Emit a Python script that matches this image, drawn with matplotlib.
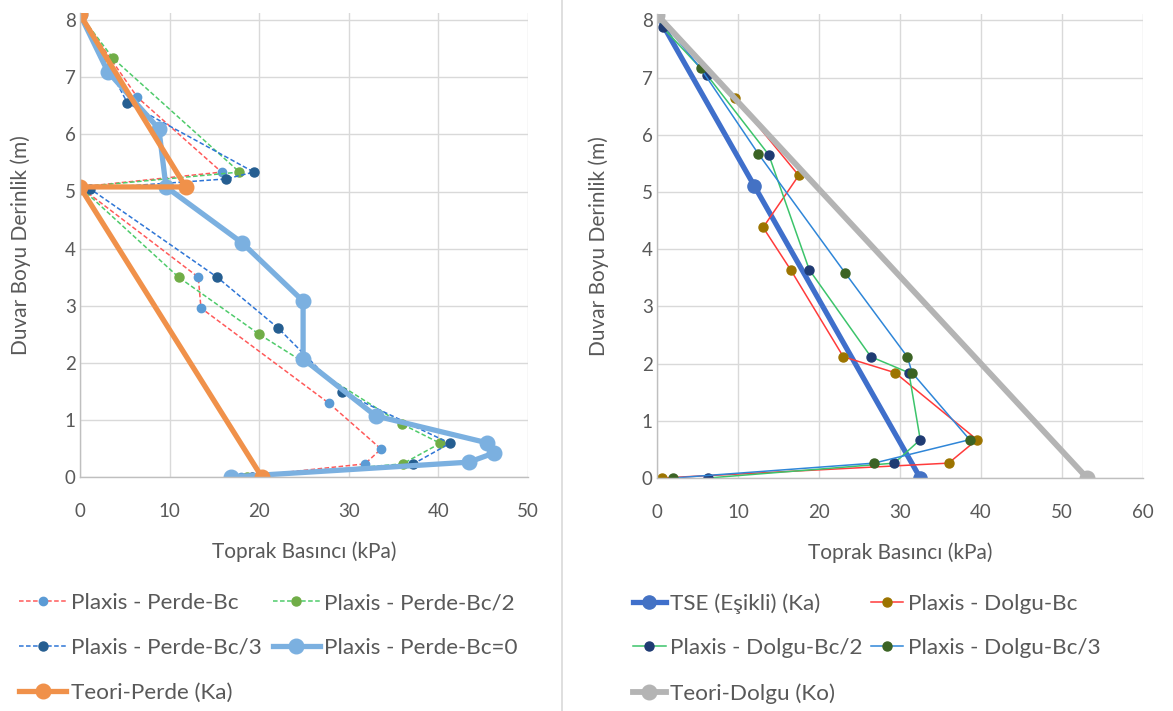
import matplotlib
matplotlib.use("Agg")
import matplotlib.pyplot as plt
from matplotlib.lines import Line2D

plt.rcParams['font.family'] = ['Lato', 'DejaVu Sans']

# ---------------- Left chart data (Perde) ----------------
perde_bc_x = [0, 6.4, 15.8, 0, 13.2, 13.5, 27.8, 33.6, 31.8, 18.0]
perde_bc_y = [8.1, 6.65, 5.34, 5.08, 3.5, 2.96, 1.29, 0.49, 0.23, 0]

perde_bc2_x = [0, 3.7, 17.8, 0, 11.0, 20.0, 35.9, 40.2, 36.0, 18.6]
perde_bc2_y = [8.1, 7.33, 5.34, 5.08, 3.5, 2.5, 0.93, 0.59, 0.23, 0]

perde_bc3_x = [0, 5.3, 19.4, 16.3, 1.1, 15.3, 22.1, 29.2, 41.3, 37.2, 19.2]
perde_bc3_y = [8.1, 6.55, 5.34, 5.22, 5.05, 3.5, 2.61, 1.49, 0.59, 0.23, 0]

perde_bc0_x = [0, 3.1, 8.8, 9.6, 18.1, 24.9, 24.9, 33.0, 45.4, 46.2, 43.4, 16.8]
perde_bc0_y = [8.1, 7.1, 6.1, 5.08, 4.1, 3.08, 2.07, 1.07, 0.6, 0.42, 0.26, 0]

teori_perde_x = [0, 11.8, 0, 20.3]
teori_perde_y = [8.1, 5.08, 5.08, 0]

# ---------------- Right chart data (Dolgu) ----------------
tse_x = [0, 12.0, 32.5]
tse_y = [8.1, 5.11, 0]

dolgu_bc_x = [0, 9.6, 17.5, 13.1, 16.5, 23.0, 29.4, 39.5, 36.0, 0.6]
dolgu_bc_y = [8.1, 6.65, 5.29, 4.38, 3.64, 2.12, 1.84, 0.67, 0.26, 0]

dolgu_bc2_x = [0, 0.7, 6.2, 13.8, 18.8, 26.4, 31.1, 32.5, 29.3, 6.3]
dolgu_bc2_y = [8.1, 7.88, 7.04, 5.65, 3.64, 2.12, 1.84, 0.67, 0.26, 0]

dolgu_bc3_x = [0, 5.4, 12.5, 23.2, 30.9, 31.5, 38.6, 26.8, 2.0]
dolgu_bc3_y = [8.1, 7.16, 5.67, 3.59, 2.12, 1.84, 0.67, 0.26, 0]

teori_dolgu_x = [0, 53.1]
teori_dolgu_y = [8.1, 0]

left_xticks = [0, 10, 20, 30, 40, 50]
right_xticks = [0, 10, 20, 30, 40, 50, 60]
yticks = [0, 1, 2, 3, 4, 5, 6, 7, 8]

xlabel = "Toprak Basıncı (kPa)"
ylabel = "Duvar Boyu Derinlik (m)"

W, H = 1173, 711
fig = plt.figure(figsize=(W / 100, H / 100), dpi=100)

def fx(px):
    return px / W

def fy(py):
    return 1 - py / H

YTOP = 8.12
axL = fig.add_axes([fx(80), fy(477), fx(528) - fx(80), fy(477 - YTOP * 57.1) - fy(477)])
axR = fig.add_axes([fx(657), fy(478), fx(1143) - fx(657), fy(478 - YTOP * 57.2) - fy(478)])

grid_c = '#D9D9D9'
text_c = '#595959'

def style(ax, xt, xmax, ylab_x):
    ax.set_xlim(0, xmax)
    ax.set_ylim(0, YTOP)
    ax.set_xticks(xt)
    ax.set_yticks(yticks)
    ax.grid(True, color=grid_c, linewidth=1.0)
    ax.set_axisbelow(True)
    for s in ['top', 'right']:
        ax.spines[s].set_visible(False)
    for s in ['left', 'bottom']:
        ax.spines[s].set_color('#BFBFBF')
        ax.spines[s].set_linewidth(1.0)
    ax.tick_params(axis='both', length=0, labelsize=13.5, colors=text_c)
    ax.tick_params(axis='x', pad=19)
    ax.tick_params(axis='y', pad=3)
    ax.set_xlabel(xlabel, fontsize=15, color=text_c, labelpad=15)
    ax.set_ylabel(ylabel, fontsize=15, color=text_c)
    ax.yaxis.set_label_coords(ylab_x, 0.5)

style(axL, left_xticks, 50, (31 - 80) / 448)
style(axR, right_xticks, 60, (609 - 657) / 486)

dash = (3.0, 1.6)
# Left series
axL.plot(perde_bc_x, perde_bc_y, color='#FF5A5A', lw=1.1, dashes=dash, marker='o',
         ms=6, mfc='#5B9BD5', mec='#5B9BD5', label='Plaxis - Perde-Bc')
axL.plot(perde_bc2_x, perde_bc2_y, color='#4FCB6B', lw=1.1, dashes=dash, marker='o',
         ms=6.5, mfc='#70AD47', mec='#70AD47', label='Plaxis - Perde-Bc/2')
axL.plot(perde_bc3_x, perde_bc3_y, color='#2E75D6', lw=1.1, dashes=dash, marker='o',
         ms=6.5, mfc='#255E91', mec='#255E91', label='Plaxis - Perde-Bc/3')
axL.plot(perde_bc0_x, perde_bc0_y, color='#7BB0E0', lw=3.8, marker='o',
         ms=10.5, mfc='#7BB0E0', mec='#7BB0E0', label='Plaxis - Perde-Bc=0')
axL.plot(teori_perde_x, teori_perde_y, color='#F0914A', lw=3.8, marker='o',
         ms=10.5, mfc='#F0914A', mec='#F0914A', label='Teori-Perde (Ka)')

# Right series
axR.plot(tse_x, tse_y, color='#3F6FCB', lw=3.8, marker='o',
         ms=9.5, mfc='#4472C4', mec='#4472C4', label='TSE (Eşikli) (Ka)')
axR.plot(dolgu_bc_x, dolgu_bc_y, color='#FF3B3B', lw=1.1, marker='o',
         ms=6.5, mfc='#9C7400', mec='#9C7400', label='Plaxis - Dolgu-Bc')
axR.plot(dolgu_bc2_x, dolgu_bc2_y, color='#3CC46B', lw=1.1, marker='o',
         ms=6.5, mfc='#1F3B73', mec='#1F3B73', label='Plaxis - Dolgu-Bc/2')
axR.plot(dolgu_bc3_x, dolgu_bc3_y, color='#2F86D8', lw=1.1, marker='o',
         ms=6.5, mfc='#3B6324', mec='#3B6324', label='Plaxis - Dolgu-Bc/3')
axR.plot(teori_dolgu_x, teori_dolgu_y, color='#B4B4B4', lw=4.2, marker='o',
         ms=10.5, mfc='#B4B4B4', mec='#B4B4B4', label='Teori-Dolgu (Ko)')

leg_kw = dict(ncol=2, frameon=False, fontsize=16.2,
              handletextpad=0.2, labelspacing=1.1,
              labelcolor=text_c, borderaxespad=0, borderpad=0)
order = [0, 2, 4, 1, 3]   # row-wise filling like the original
hL, lL = axL.get_legend_handles_labels()
fig.legend([hL[i] for i in order], [lL[i] for i in order], loc='upper left',
           bbox_to_anchor=(fx(19), fy(593)), handlelength=2.1, columnspacing=0.5,
           **leg_kw)
hR, lR = axR.get_legend_handles_labels()
fig.legend([hR[i] for i in order], [lR[i] for i in order], loc='upper left',
           bbox_to_anchor=(fx(633), fy(593)), handlelength=1.45, columnspacing=0.35,
           **leg_kw)

# separator between the two charts
fig.add_artist(Line2D([fx(562), fx(562)], [0, 1], color='#D9D9D9', lw=1.2))

fig.savefig('out.png', dpi=100, facecolor='white')
